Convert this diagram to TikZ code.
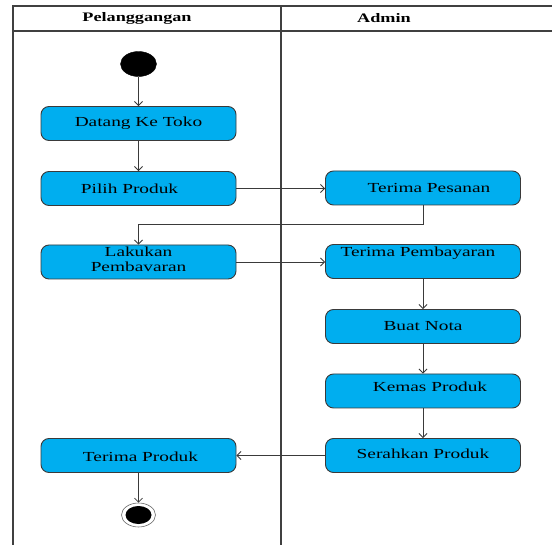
\documentclass[tikz,border=0pt]{standalone}
\usepackage{fontspec}
\setmainfont{Liberation Serif}[FakeStretch=1.4]
\usetikzlibrary{arrows.meta,shapes.geometric}
\definecolor{actfill}{HTML}{00AEEF}
\definecolor{actline}{HTML}{3A3A3A}
\definecolor{laneline}{HTML}{404040}
\tikzset{
  act/.style={draw=actline, line width=0.9pt, fill=actfill, rounded corners=8pt,
    minimum width=195pt, minimum height=34pt, inner sep=0pt},
  lbl/.style={font=\fontsize{13.8}{14.5}\selectfont, inner sep=0pt, text=black},
  hdr/.style={font=\fontsize{13}{14}\selectfont\bfseries, inner sep=0pt},
  flow/.style={draw=actline, line width=0.8pt, -{Straight Barb[length=4pt,width=8pt]}},
  lane/.style={draw=laneline, line width=1.5pt}
}
\begin{document}
\begin{tikzpicture}[x=1pt, y=-1pt]
  \useasboundingbox (0,0) rectangle (552,545);

  % swimlane frame
  \draw[lane] (13,545) -- (13,6) -- (552,6);
  \draw[lane] (13,31) -- (552,31);
  \draw[lane] (281,6) -- (281,545);
  \node[hdr] (h1) at (137,18) {Pelanggangan};
  \node[hdr] (h2) at (384,18) {Admin};

  % start and end
  \node[draw=black, fill=black, ellipse, minimum width=36pt, minimum height=25pt, inner sep=0pt] (start) at (138.5,64) {};
  \node[draw=black!60, line width=0.6pt, fill=white, ellipse, minimum width=34pt, minimum height=24pt, inner sep=0pt] (end) at (138.5,515) {};
  \node[fill=black, ellipse, minimum width=26pt, minimum height=18pt, inner sep=0pt] (endin) at (end.center) {};

  % Pelanggan lane
  \node[act, label={[lbl]center:Datang Ke Toko}] (datang) at (138.5,123.5) {};
  \node[act, label={[lbl, xshift=-9pt]center:Pilih Produk}] (pilih) at (138.5,188.5) {};
  \node[act, label={[lbl, align=center, yshift=2.5pt]center:Lakukan\\Pembavaran}] (lakukan) at (138.5,262) {};
  \node[act, label={[lbl, xshift=2pt, yshift=-1pt]center:Terima Produk}] (terima) at (138.5,455.5) {};

  % Admin lane
  \node[act, label={[lbl, xshift=6pt]center:Terima Pesanan}] (pesanan) at (423,188) {};
  \node[act, label={[lbl, xshift=-5pt, yshift=8pt]center:Terima Pembayaran}] (bayar) at (423,261.5) {};
  \node[act, label={[lbl]center:Buat Nota}] (nota) at (423,326.5) {};
  \node[act, label={[lbl, xshift=7pt, yshift=4pt]center:Kemas Produk}] (kemas) at (423,391) {};
  \node[act, label={[lbl, yshift=2pt]center:Serahkan Produk}] (serah) at (423,455.5) {};

  % control flow
  \draw[flow] (start) -- (datang);
  \draw[flow] (datang) -- (pilih);
  \draw[flow] (pilih.east) -- (pesanan.west |- pilih.east);
  \draw[flow] (pesanan.south) -- (pesanan.south |- 0,224) -- (lakukan.north |- 0,224) -- (lakukan.north);
  \draw[flow] (lakukan.east) -- (bayar.west |- lakukan.east);
  \draw[flow] (bayar) -- (nota);
  \draw[flow] (nota) -- (kemas);
  \draw[flow] (kemas) -- (serah);
  \draw[flow] (serah.west) -- (terima.east |- serah.west);
  \draw[flow] (terima.south) -- (end.north);
\end{tikzpicture}
\end{document}
